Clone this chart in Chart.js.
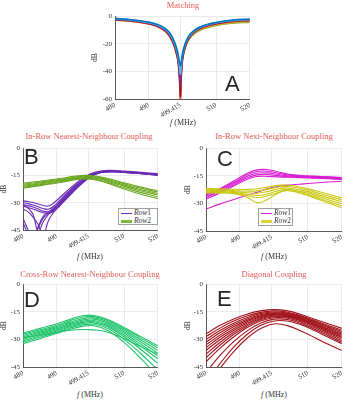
<!DOCTYPE html>
<html>
<head>
<meta charset="utf-8">
<script src="https://cdn.jsdelivr.net/npm/chart.js@4"></script>
<style>
  html, body { margin: 0; padding: 0; background: #fff; }
  #fig { position: relative; width: 359px; height: 400px; overflow: hidden; }
  #fig canvas { position: absolute; }
  .ttl { position: absolute; transform: translateX(-50%); white-space: nowrap;
         font-family: 'Liberation Serif', serif; font-size: 8.5px; line-height: 10px; color: #e45a52; }
  .xl { position: absolute; transform: translateX(-50%); white-space: nowrap;
        font-family: 'Liberation Serif', serif; font-size: 8px; line-height: 10px; color: #333; }
  .tag { position: absolute; font-family: 'Liberation Sans', Arial, sans-serif; font-size: 22px;
         line-height: 22px; color: #262626; }
  .leg { position: absolute; border: 1px solid #a0a0a0; background: #fff; box-sizing: border-box;
         font-family: 'Liberation Serif', serif; font-size: 7.5px; line-height: 8px; color: #333; }
  .leg div { position: relative; height: 8px; white-space: nowrap; }
  .leg span.ln { position: absolute; left: 2px; width: 11px; }
  .leg span.tx { position: absolute; left: 15px; top: 0; }
</style>
</head>
<body>
<div id="fig">
  <canvas id="chartA"></canvas>
  <canvas id="chartB"></canvas>
  <canvas id="chartC"></canvas>
  <canvas id="chartD"></canvas>
  <canvas id="chartE"></canvas>

  <div class="ttl" style="left:183px; top:0px;">Matching</div>
  <div class="ttl" style="left:89px; top:131px;">In-Row Nearest-Neighbour Coupling</div>
  <div class="ttl" style="left:274px; top:131px;">In-Row Next-Neighbour Coupling</div>
  <div class="ttl" style="left:90px; top:269px;">Cross-Row Nearest-Neighbour Coupling</div>
  <div class="ttl" style="left:274px; top:269px;">Diagonal Coupling</div>

  <div class="xl" style="left:183px; top:118px;"><i>f</i> (MHz)</div>
  <div class="xl" style="left:90px; top:252px;"><i>f</i> (MHz)</div>
  <div class="xl" style="left:274px; top:252px;"><i>f</i> (MHz)</div>
  <div class="xl" style="left:90px; top:390px;"><i>f</i> (MHz)</div>
  <div class="xl" style="left:274px; top:390px;"><i>f</i> (MHz)</div>

  <div class="tag" style="left:225px; top:73px;">A</div>
  <div class="tag" style="left:24px; top:146px;">B</div>
  <div class="tag" style="left:217px; top:148px;">C</div>
  <div class="tag" style="left:24px; top:289px;">D</div>
  <div class="tag" style="left:217px; top:288px;">E</div>

  <div class="leg" style="left:118px; top:208px; width:40px; height:17px; padding-top:0px;">
    <div><span class="ln" style="top:3.5px; border-top:1px solid #6a2bb5;"></span><span class="tx"><i>Row</i>1</span></div>
    <div><span class="ln" style="top:2.5px; border-top:3px solid #7cb83a;"></span><span class="tx"><i>Row</i>2</span></div>
  </div>
  <div class="leg" style="left:258px; top:208px; width:35px; height:18px;">
    <div><span class="ln" style="top:3.5px; border-top:1px solid #d81ed2;"></span><span class="tx"><i>Row</i>1</span></div>
    <div><span class="ln" style="top:2.5px; border-top:3px solid #d6d43a;"></span><span class="tx"><i>Row</i>2</span></div>
  </div>
</div>

<script>
// axis ticks
const xTickValues = [480, 490, 499.415, 510, 520];
const xTickLabels = ['480', '490', '499.415', '510', '520'];
const yTicksMatch = [0, -20, -40, -60];
const yTicksCoupling = [0, -15, -30, -45];

// A: matching (|S11|, dB)
const freqA = [480, 484, 488, 492, 495, 497, 498.5, 499.1, 499.415, 499.7, 500.3, 502, 505, 510, 515, 520];
const matchColors = ['#0072BD', '#4DBEEE', '#7E2F8E', '#A2142F', '#D95319', '#EDB120', '#77AC30'];
const matchDb = [
  [-1.6, -2.3, -3.5, -5.5, -9.0, -15.0, -25.0, -33.0, -36.0, -33.0, -24.0, -14.0, -8.0, -4.5, -2.8, -2.0],
  [-1.9, -2.6, -3.8, -5.9, -9.6, -16.0, -26.5, -36.0, -42.0, -35.0, -25.0, -14.6, -8.4, -4.8, -3.1, -2.3],
  [-2.2, -2.9, -4.1, -6.3, -10.2, -16.8, -28.0, -40.0, -50.0, -38.0, -26.0, -15.2, -8.8, -5.1, -3.4, -2.6],
  [-2.5, -3.2, -4.4, -6.6, -10.7, -17.6, -29.0, -43.0, -58.0, -41.0, -27.0, -15.7, -9.2, -5.4, -3.7, -2.9],
  [-2.8, -3.5, -4.7, -6.9, -11.1, -18.2, -30.0, -45.0, -62.0, -43.0, -27.8, -16.1, -9.5, -5.7, -4.0, -3.2],
  [-2.7, -3.4, -4.6, -6.9, -11.0, -18.0, -29.5, -42.0, -54.0, -40.0, -27.5, -16.3, -9.9, -6.2, -4.5, -3.7],
  [-2.6, -3.3, -4.6, -6.8, -10.9, -17.8, -29.0, -40.0, -48.0, -39.0, -27.5, -16.6, -10.3, -6.7, -5.0, -4.3]
];

// B: in-row nearest-neighbour coupling
const freqB1 = [480, 481.5, 483, 484.5, 486, 487.5, 489, 491, 494, 497, 500, 503, 506, 510, 515, 520];
const nearRow1 = [
  [-29.0, -29.3, -29.9, -30.7, -31.5, -31.8, -30.3, -27.0, -22.0, -17.5, -14.0, -12.5, -12.2, -12.6, -13.3, -14.0],
  [-30.0, -30.5, -31.2, -32.2, -33.2, -33.6, -32.1, -28.4, -23.0, -18.3, -14.5, -12.8, -12.4, -12.8, -13.5, -14.3],
  [-31.0, -31.6, -32.4, -33.5, -34.6, -35.0, -33.5, -29.8, -24.2, -19.0, -15.0, -13.1, -12.6, -13.0, -13.7, -14.5],
  [-32.0, -32.6, -33.5, -34.6, -35.5, -35.8, -34.4, -30.8, -25.2, -19.8, -15.5, -13.4, -12.9, -13.2, -13.9, -14.7],
  [-38.5, -45.0, -52.0, -43.0, -37.5, -35.2, -33.0, -29.2, -23.6, -18.8, -14.8, -13.0, -12.6, -13.0, -13.7, -14.5],
  [-31.0, -33.0, -36.5, -46.0, -40.5, -36.5, -34.0, -30.0, -24.6, -19.4, -15.2, -13.2, -12.7, -13.1, -13.8, -14.6],
  [-33.5, -35.0, -38.0, -42.0, -48.0, -40.0, -35.5, -31.6, -25.8, -20.3, -15.8, -13.5, -13.0, -13.3, -14.0, -14.8],
  [-41.0, -47.0, -50.0, -44.0, -38.5, -36.0, -34.8, -31.0, -25.4, -20.0, -15.6, -13.4, -12.9, -13.3, -14.0, -14.8]
];
const freqB2 = [480, 486, 492, 497, 502, 508, 514, 520];
const nearRow2 = [
  [-19.2, -17.9, -16.4, -15.0, -15.4, -18.0, -21.0, -23.4],
  [-19.8, -18.4, -16.9, -15.5, -15.9, -18.6, -21.6, -24.1],
  [-20.4, -18.9, -17.3, -15.9, -16.3, -19.2, -22.3, -24.9],
  [-20.9, -19.4, -17.8, -16.3, -16.7, -19.8, -23.0, -25.7],
  [-21.5, -19.9, -18.2, -16.6, -17.2, -20.5, -23.9, -26.8],
  [-22.0, -20.3, -18.6, -17.0, -17.6, -21.2, -24.8, -27.8]
];

// C: in-row next-neighbour coupling
const freqC = [480, 484, 488, 492, 495, 498, 501, 504, 508, 512, 516, 520];
const nextRow1 = [
  [-25.0, -22.0, -18.0, -13.8, -11.8, -11.6, -12.8, -14.0, -14.8, -15.2, -15.5, -15.9],
  [-25.6, -22.6, -18.7, -14.6, -12.7, -12.5, -13.5, -14.5, -15.1, -15.4, -15.7, -16.1],
  [-26.2, -23.2, -19.3, -15.4, -13.6, -13.4, -14.2, -15.0, -15.4, -15.7, -16.0, -16.4],
  [-26.8, -23.8, -20.0, -16.2, -14.5, -14.3, -14.9, -15.4, -15.7, -16.0, -16.3, -16.7],
  [-27.6, -24.5, -20.7, -17.0, -15.4, -15.3, -15.6, -15.8, -16.0, -16.3, -16.6, -17.0],
  [-33.0, -30.4, -28.0, -25.6, -24.0, -22.0, -20.9, -20.2, -19.5, -18.9, -18.4, -18.0]
];
const nextRow2 = [
  [-21.8, -22.0, -22.3, -22.4, -22.0, -21.2, -20.2, -20.0, -21.2, -23.0, -25.0, -27.0],
  [-22.3, -22.6, -23.0, -23.3, -23.2, -22.4, -21.2, -20.8, -22.0, -23.8, -26.0, -28.0],
  [-22.8, -23.1, -23.5, -24.2, -24.5, -23.6, -22.2, -21.6, -22.8, -24.6, -27.0, -29.0],
  [-23.3, -23.6, -24.0, -25.0, -25.7, -24.9, -23.2, -22.4, -23.6, -25.5, -28.0, -30.2],
  [-23.8, -24.0, -24.4, -25.7, -26.8, -26.0, -24.2, -23.0, -24.3, -26.4, -29.0, -31.3],
  [-24.3, -24.4, -24.6, -26.5, -29.6, -28.0, -24.6, -23.0, -24.6, -27.0, -29.8, -32.3]
];

// D: cross-row nearest-neighbour coupling
const freqD = [480, 485, 490, 494, 498, 501, 505, 510, 515, 520];
const crossDb = [
  [-26.5, -24.0, -21.5, -19.0, -17.0, -17.0, -19.0, -23.5, -28.5, -33.5],
  [-27.2, -24.8, -22.3, -19.8, -17.8, -17.6, -19.6, -24.2, -29.3, -34.6],
  [-27.9, -25.5, -23.0, -20.6, -18.6, -18.3, -20.3, -25.0, -30.3, -36.0],
  [-28.6, -26.1, -23.6, -21.3, -19.3, -19.0, -21.0, -25.8, -31.4, -37.5],
  [-29.3, -26.7, -24.2, -21.9, -20.0, -19.7, -21.7, -26.7, -32.6, -39.0],
  [-30.0, -27.3, -24.8, -22.5, -20.6, -20.4, -22.4, -27.6, -33.8, -40.6],
  [-30.8, -28.0, -25.4, -23.1, -21.3, -21.0, -23.0, -28.6, -35.5, -43.0],
  [-31.6, -28.8, -26.1, -23.8, -22.0, -21.8, -24.0, -30.0, -37.8, -46.5],
  [-32.4, -29.6, -26.8, -24.5, -22.8, -22.6, -25.0, -31.6, -40.5, -50.0],
  [-29.0, -27.6, -26.2, -25.0, -24.6, -24.8, -26.0, -29.5, -34.0, -38.0]
];

// E: diagonal coupling
const freqE = [480, 484, 488, 492, 496, 500, 504, 508, 512, 516, 520];
const diagDb = [
  [-27.0, -22.5, -19.0, -16.3, -14.5, -13.8, -14.5, -16.5, -19.0, -21.5, -24.0],
  [-28.5, -24.0, -20.2, -17.3, -15.3, -14.5, -15.2, -17.2, -19.8, -22.4, -25.0],
  [-30.0, -25.3, -21.3, -18.2, -16.0, -15.1, -15.7, -17.6, -20.3, -23.0, -25.8],
  [-31.5, -26.5, -22.3, -19.0, -16.6, -15.6, -16.1, -18.0, -20.7, -23.6, -26.5],
  [-33.0, -27.8, -23.3, -19.8, -17.2, -16.0, -16.5, -18.4, -21.2, -24.2, -27.2],
  [-34.5, -29.0, -24.3, -20.5, -17.7, -16.4, -16.8, -18.8, -21.6, -24.7, -27.8],
  [-36.0, -30.3, -25.3, -21.2, -18.2, -16.8, -17.2, -19.2, -22.0, -25.2, -28.4],
  [-38.0, -31.8, -26.4, -22.0, -18.8, -17.3, -17.6, -19.6, -22.5, -25.8, -29.0],
  [-40.0, -33.3, -27.5, -22.8, -19.3, -17.7, -18.0, -20.0, -23.0, -26.4, -29.8],
  [-42.2, -35.0, -28.8, -23.7, -20.0, -18.2, -18.5, -20.6, -23.7, -27.2, -30.8],
  [-48.0, -39.0, -31.5, -25.5, -21.2, -19.0, -19.2, -21.3, -24.5, -28.0, -31.5],
  [-53.0, -43.5, -34.5, -27.5, -22.5, -20.0, -20.0, -22.0, -25.2, -28.8, -32.3],
  [-56.0, -46.0, -37.0, -29.5, -24.2, -21.6, -22.5, -25.5, -29.0, -32.7, -36.0]
];

const tickFont = { family: "'Liberation Serif', serif", size: 7 };

function buildSets(freq, curves, color, width) {
  return curves.map(function (v, k) {
    return {
      data: freq.map(function (f, i) { return { x: f, y: v[i] }; }),
      borderColor: Array.isArray(color) ? color[k % color.length] : color,
      borderWidth: width || 1.1,
      pointRadius: 0,
      tension: 0.4,
      fill: false
    };
  });
}

// area = [left, top, right, bottom] of the plot box in page pixels
function makePanel(id, area, yW, xH, yTicks, datasets) {
  var cv = document.getElementById(id);
  var padTop = 4, padRight = 6;
  var left = area[0] - yW, top = area[1] - padTop;
  var w = area[2] - left + padRight, h = area[3] - top + xH;
  cv.style.left = left + 'px';
  cv.style.top = top + 'px';
  cv.width = w; cv.height = h;
  cv.style.width = w + 'px'; cv.style.height = h + 'px';

  return new Chart(cv, {
    type: 'line',
    data: { datasets: datasets },
    options: {
      responsive: false,
      animation: false,
      devicePixelRatio: 1,
      layout: { padding: { top: padTop, right: padRight, left: 0, bottom: 0 } },
      plugins: { legend: { display: false }, tooltip: { enabled: false } },
      scales: {
        x: {
          type: 'linear', min: 480, max: 520,
          afterBuildTicks: function (s) { s.ticks = xTickValues.map(function (v) { return { value: v }; }); },
          afterFit: function (s) { s.height = xH; },
          ticks: {
            autoSkip: false, minRotation: 30, maxRotation: 30, padding: 2,
            font: tickFont, color: '#333',
            callback: function (v, i) { return xTickLabels[i]; }
          },
          grid: { color: '#e6e6e6', lineWidth: 0.8, drawTicks: false },
          border: { color: '#333', width: 0.8 }
        },
        y: {
          min: yTicks[yTicks.length - 1], max: yTicks[0],
          afterBuildTicks: function (s) { s.ticks = yTicks.map(function (v) { return { value: v }; }); },
          afterFit: function (s) { s.width = yW; },
          ticks: { padding: 3, font: tickFont, color: '#333' },
          title: { display: true, text: 'dB', font: { family: "'Liberation Serif', serif", size: 7.5 }, color: '#333', padding: 0 },
          grid: { color: '#e6e6e6', lineWidth: 0.8, drawTicks: false },
          border: { color: '#333', width: 0.8 }
        }
      }
    }
  });
}

makePanel('chartA', [115, 13, 250, 99], 24, 18, yTicksMatch,
  buildSets(freqA, matchDb, matchColors, 1.6));

makePanel('chartB', [23, 145, 158, 230], 23, 18, yTicksCoupling,
  buildSets(freqB2, nearRow2, '#6aa820').concat(buildSets(freqB1, nearRow1, '#6a2bb5')));

makePanel('chartC', [206, 145, 342, 231], 22, 18, yTicksCoupling,
  buildSets(freqC, nextRow2, '#c9c80e').concat(buildSets(freqC, nextRow1, '#d81ed2')));

makePanel('chartD', [23, 281, 158, 367], 23, 18, yTicksCoupling,
  buildSets(freqD, crossDb, '#1ec46a'));

makePanel('chartE', [206, 281, 342, 367], 22, 18, yTicksCoupling,
  buildSets(freqE, diagDb, '#a3121a'));
</script>
</body>
</html>
